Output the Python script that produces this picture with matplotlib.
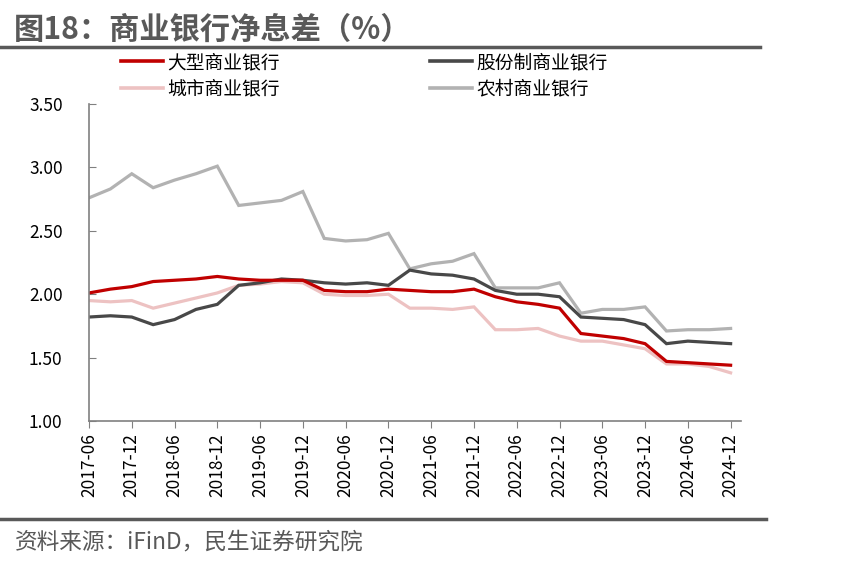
import matplotlib
matplotlib.use("Agg")
import matplotlib.pyplot as plt
from matplotlib.lines import Line2D

plt.rcParams['font.family'] = ['Noto Sans CJK SC', 'DejaVu Sans']

# quarterly, 2017-06 .. 2024-12
quarters = []
for y in range(2017, 2025):
  for m in ["03", "06", "09", "12"]:
    if y == 2017 and m == "03":
      continue
    quarters.append(str(y) + "-" + m)

large = [2.01, 2.04, 2.06, 2.10, 2.11, 2.12, 2.14, 2.12, 2.11, 2.11, 2.11,
         2.03, 2.02, 2.02, 2.04, 2.03, 2.02, 2.02, 2.04, 1.98, 1.94, 1.92,
         1.89, 1.69, 1.67, 1.65, 1.61, 1.47, 1.46, 1.45, 1.44]
joint = [1.82, 1.83, 1.82, 1.76, 1.80, 1.88, 1.92, 2.07, 2.09, 2.12, 2.11,
         2.09, 2.08, 2.09, 2.07, 2.19, 2.16, 2.15, 2.12, 2.03, 2.00, 2.00,
         1.98, 1.82, 1.81, 1.80, 1.76, 1.61, 1.63, 1.62, 1.61]
city = [1.95, 1.94, 1.95, 1.89, 1.93, 1.97, 2.01, 2.07, 2.08, 2.10, 2.09,
        2.00, 1.99, 1.99, 2.00, 1.89, 1.89, 1.88, 1.90, 1.72, 1.72, 1.73,
        1.67, 1.63, 1.63, 1.60, 1.57, 1.45, 1.45, 1.43, 1.38]
rural = [2.76, 2.83, 2.95, 2.84, 2.90, 2.95, 3.01, 2.70, 2.72, 2.74, 2.81,
         2.44, 2.42, 2.43, 2.48, 2.20, 2.24, 2.26, 2.32, 2.05, 2.05, 2.05,
         2.09, 1.85, 1.88, 1.88, 1.90, 1.71, 1.72, 1.72, 1.73]

names = ["大型商业银行", "股份制商业银行", "城市商业银行", "农村商业银行"]
colors = ["#C00000", "#484848", "#EDC2C2", "#B2B2B2"]
series = [large, joint, city, rural]
yticks = [1.0, 1.5, 2.0, 2.5, 3.0, 3.5]

fig = plt.figure(figsize=(8.64, 5.70), dpi=100)
ax = fig.add_axes([0.103, 0.2614, 0.755, 0.5561])

x = list(range(len(quarters)))
lines = {}
# draw order: rural, city, joint, large on top
for idx in [3, 2, 1, 0]:
  lines[idx], = ax.plot(x, series[idx], color=colors[idx], lw=2.3, solid_joinstyle="miter")

ax.set_xlim(0, 30.5)
ax.set_ylim(1.0, 3.5)
ax.set_yticks(yticks)
ax.set_yticklabels(["%.2f" % v for v in yticks], fontsize=12.5)
ax.set_xticks(x[::2])
ax.set_xticklabels(quarters[::2], rotation=90, fontsize=12.5)

for s in ["top", "right"]:
  ax.spines[s].set_visible(False)
for s in ["left", "bottom"]:
  ax.spines[s].set_color("#808080")
  ax.spines[s].set_linewidth(1.2)
ax.tick_params(axis="y", direction="in", length=5, color="#808080", pad=19)
ax.tick_params(axis="x", direction="out", length=5, color="#808080", pad=4)

# legend: two single-column blocks
leg_kw = dict(loc="upper left", frameon=False, fontsize=13.5, handlelength=2.25,
              handletextpad=0.2, labelspacing=0.28, borderpad=0, borderaxespad=0)
leg1 = fig.legend([lines[0], lines[2]], [names[0], names[2]],
                  bbox_to_anchor=(0.140, 0.909), **leg_kw)
leg2 = fig.legend([lines[1], lines[3]], [names[1], names[3]],
                  bbox_to_anchor=(0.498, 0.909), **leg_kw)
for lg in [leg1, leg2]:
  for h in lg.legend_handles:
    h.set_linewidth(2.6)

# title and separator lines
fig.text(0.016, 0.947, "图18：商业银行净息差（%）", fontsize=21.8, fontweight="bold",
         color="#595959", va="center", ha="left")
fig.add_artist(Line2D([0, 0.88], [0.9175, 0.9175], color="#595959", lw=2.5))
fig.add_artist(Line2D([0, 0.886], [0.09, 0.09], color="#595959", lw=2.5))
fig.text(0.017, 0.049, "资料来源：iFinD，民生证券研究院", fontsize=16.3,
         color="#595959", va="center", ha="left")

fig.savefig("out.png", dpi=100)
